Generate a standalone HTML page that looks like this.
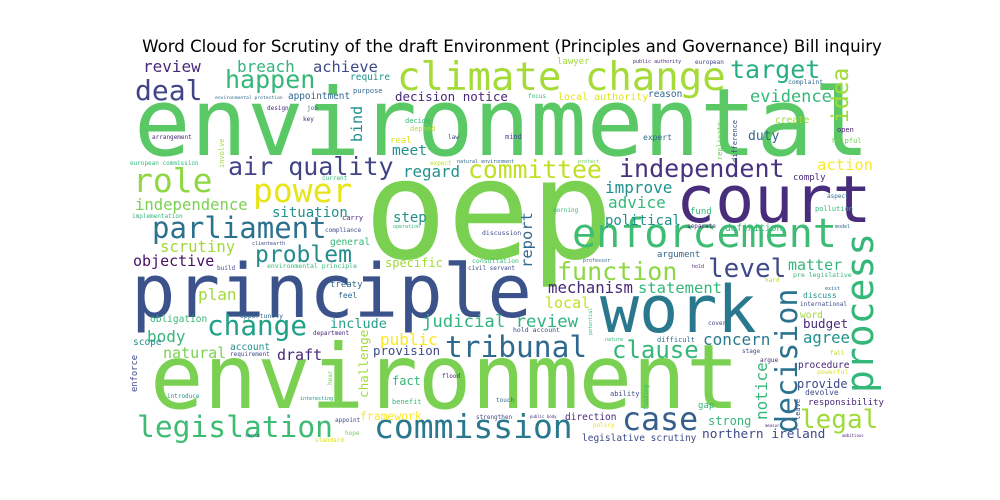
<!DOCTYPE html>
<html><head><meta charset="utf-8"><style>
html,body{margin:0;padding:0;background:#fff;}
svg{display:block}
text.w{font-family:"DejaVu Sans Mono","Liberation Mono",monospace;}
</style></head><body>
<svg id="chart" width="1000" height="500" viewBox="0 0 1000 500" xmlns="http://www.w3.org/2000/svg">
<rect x="0" y="0" width="1000" height="500" fill="#fff"/>
<text x="512" y="52" text-anchor="middle" font-family="DejaVu Sans, Liberation Sans, sans-serif" font-size="16.6" fill="#000">Word Cloud for Scrutiny of the draft Environment (Principles and Governance) Bill inquiry</text>
<g id="cloud"></g>
</svg>
<script>
// word, x, baseline y, font size, colour, vertical flag
const words = [
["environmental",134,155,94,"#5ac864",0],
["oep",364,258,138,"#7ad151",0],
["principle",131,317,74,"#3b528b",0],
["environment",150,408,89,"#7ad151",0],
["court",676,222,65,"#472d7b",0],
["work",600,332,65,"#2a788e",0],
["climate change",397,90,39,"#a5db36",0],
["enforcement",572,247,40,"#3fbc73",0],
["commission",374,438,33,"#2a788e",0],
["tribunal",445,357,29.5,"#31688e",0],
["legislation",137,437,29.6,"#3fbc73",0],
["case",622,430,31.6,"#355f8d",0],
["power",253,202,33,"#e7e419",0],
["role",133,192,33,"#8fd744",0],
["deal",135,100,28,"#414487",0],
["parliament",152,238,29,"#2c718e",0],
["air quality",228,175,25,"#414487",0],
["happen",225,88,25,"#35b779",0],
["target",730,78,25,"#28ae80",0],
["committee",468,178,24.7,"#c2df23",0],
["independent",619,177,25,"#46327e",0],
["change",207,335,27.7,"#1fa187",0],
["problem",255,262,23,"#238a8d",0],
["function",557,280,25,"#8fd744",0],
["level",708,277,26,"#3e4a89",0],
["clause",612,358,24,"#35b779",0],
["legal",800,428,26,"#a0da39",0],
["judicial review",422,327,17.3,"#2fb47c",0],
["review",143,72,16,"#482878",0],
["breach",237,72,16,"#32b47a",0],
["achieve",313,72,15.4,"#3e4a89",0],
["evidence",750,102,17,"#35b779",0],
["duty",748,140,13,"#31688e",0],
["decision notice",395,101,12.5,"#482878",0],
["local authority",558,100,10,"#e2e418",0],
["reason",648,97,9.5,"#31688e",0],
["lawyer",557,64,9,"#a0da39",0],
["create",775,123,9.5,"#a0da39",0],
["complaint",788,84,6.5,"#31688e",0],
["european",695,64,6,"#3e4a89",0],
["public authority",633,63,5,"#482878",0],
["helpful",832,143,7,"#6ece58",0],
["open",837,132,7,"#482878",0],
["expert",643,140,8,"#31688e",0],
["mind",505,139,7,"#3e4a89",0],
["law",448,139,6,"#3e4a89",0],
["decide",405,123,7,"#35b779",0],
["depend",410,131,7,"#b5de2b",0],
["focus",528,98,6,"#35b779",0],
["appointment",288,99,9.4,"#31688e",0],
["require",350,80,9.5,"#21908d",0],
["purpose",353,93,7,"#31688e",0],
["environmental protection",215,99,4.7,"#31688e",0],
["design",267,110,6,"#482878",0],
["job",307,110,6,"#31688e",0],
["key",303,121,6,"#482878",0],
["arrangement",152,139,6,"#482878",0],
["real",390,143,9,"#dde318",0],
["european commission",130,165,6,"#35b779",0],
["independence",135,210,15.6,"#7ad151",0],
["situation",272,217,14,"#21908d",0],
["current",322,180,6,"#35b779",0],
["implementation",132,218,6,"#35b779",0],
["step",393,222,14,"#21908d",0],
["carry",342,220,7,"#482878",0],
["compliance",325,232,6,"#3e4a89",0],
["general",330,245,9.5,"#35b779",0],
["clientearth",252,245,5,"#3e4a89",0],
["scrutiny",160,252,15.6,"#a0da39",0],
["objective",133,266,15,"#471063",0],
["build",217,270,6,"#3e4a89",0],
["environmental principle",267,268,6.5,"#35b779",0],
["specific",385,267,12,"#a0da39",0],
["mechanism",548,293,15.7,"#482878",0],
["statement",638,293,15.5,"#35b779",0],
["local",545,308,15,"#c2df23",0],
["argument",657,257,9,"#31688e",0],
["consultation",472,263,6.5,"#35b779",0],
["civil servant",468,270,6,"#3e4a89",0],
["public",380,345,16,"#fde725",0],
["provision",373,355,12.4,"#3e4a89",0],
["fact",392,385,12,"#35b779",0],
["framework",360,420,11.4,"#fde725",0],
["benefit",392,404,7,"#35b779",0],
["direction",565,420,9.5,"#482878",0],
["strengthen",476,419,6,"#3e4a89",0],
["public body",530,418,4,"#482878",0],
["policy",593,427,6,"#dde318",0],
["legislative scrutiny",582,441,9.5,"#3e4a89",0],
["touch",496,402,6,"#31688e",0],
["flood",442,378,6,"#482878",0],
["ability",610,396,7,"#3e4a89",0],
["difficult",657,342,7,"#31688e",0],
["nature",605,341,5,"#35b779",0],
["hold account",513,332,6.5,"#3e4a89",0],
["professor",583,262,5,"#31688e",0],
["plan",198,300,16,"#a0da39",0],
["treaty",330,287,9,"#31688e",0],
["feel",338,298,8,"#31688e",0],
["include",330,328,13.5,"#2a9d8a",0],
["obligation",150,322,9.5,"#35b779",0],
["opportunity",240,318,6.5,"#31688e",0],
["body",147,342,16,"#35b779",0],
["scope",133,345,9.5,"#21908d",0],
["natural",163,358,15,"#7ad151",0],
["account",230,350,9.5,"#21908d",0],
["draft",277,360,15,"#482878",0],
["requirement",230,356,6,"#3e4a89",0],
["department",313,335,6,"#482878",0],
["introduce",167,398,6,"#21908d",0],
["interesting",300,400,5,"#21908d",0],
["appoint",335,422,6,"#3e4a89",0],
["hope",345,435,6,"#6ece58",0],
["standard",315,442,6,"#dde318",0],
["sense",245,437,5,"#31688e",0],
["regard",403,177,15.8,"#21908d",0],
["meet",392,155,14.5,"#21908d",0],
["improve",605,193,16,"#21908d",0],
["advice",608,208,16,"#35b779",0],
["political",605,225,14,"#21908d",0],
["discussion",482,235,6.5,"#3e4a89",0],
["morning",553,212,6,"#35b779",0],
["expect",430,165,6,"#b5de2b",0],
["natural environment",457,163,5,"#31688e",0],
["protect",578,163,5,"#6ece58",0],
["operation",393,228,5,"#35b779",0],
["action",817,170,15.5,"#fde725",0],
["comply",793,180,9,"#482878",0],
["fund",690,214,9,"#35b779",0],
["pollution",815,211,7,"#35b779",0],
["aspect",827,198,6,"#31688e",0],
["separate",687,228,6,"#482878",0],
["definition",725,231,9.5,"#35b779",0],
["model",835,228,5,"#31688e",0],
["hold",692,268,5,"#482878",0],
["matter",788,270,15,"#35b779",0],
["pre legislative",793,277,6.5,"#35b779",0],
["hard",765,282,6,"#b5de2b",0],
["discuss",803,298,8,"#21908d",0],
["exist",825,290,5,"#31688e",0],
["international",800,306,6,"#3e4a89",0],
["word",800,318,9.5,"#a0da39",0],
["budget",803,328,12.5,"#482878",0],
["concern",703,345,16,"#2a788e",0],
["agree",803,343,15.6,"#21908d",0],
["cover",708,325,6,"#3e4a89",0],
["stage",742,353,6,"#3e4a89",0],
["argue",760,362,6,"#482878",0],
["fall",830,355,6,"#b5de2b",0],
["procedure",798,368,9.5,"#482878",0],
["powerful",817,374,6.5,"#dde318",0],
["provide",797,388,12,"#3e4a89",0],
["devolve",805,395,8,"#3e4a89",0],
["responsibility",808,405,9,"#482878",0],
["gap",698,408,9,"#35b779",0],
["strong",708,425,12,"#35b779",0],
["northern ireland",702,438,12.8,"#3e4a89",0],
["measure",765,427,4,"#482878",0],
["ambitious",842,437,4,"#482878",0],
["process",873,393,38,"#35b779",1],
["decision",797,433,30,"#2c728e",1],
["idea",848,123,23,"#a0da39",1],
["bind",362,142,15,"#21908d",1],
["involve",224,168,7,"#a0da39",1],
["report",532,268,15.5,"#31688e",1],
["challenge",368,398,12.6,"#a0da39",1],
["enforce",137,392,8.8,"#3e4a89",1],
["notice",767,420,16,"#35b779",1],
["funding",648,410,6,"#35b779",1],
["leave",800,420,7,"#3e4a89",1],
["replicate",722,160,7,"#6ece58",1],
["difference",737,162,7,"#3e4a89",1],
["potential",592,335,5,"#35b779",1],
["hear",332,385,6,"#6ece58",1]
];
const g = document.getElementById('cloud');
const NS = 'http://www.w3.org/2000/svg';
for (const w of words) {
  const t = document.createElementNS(NS, 'text');
  t.setAttribute('class', 'w');
  t.setAttribute('font-size', w[3]);
  t.setAttribute('fill', w[4]);
  if (w[5]) {
    t.setAttribute('transform', 'translate(' + w[1] + ',' + w[2] + ') rotate(-90)');
    t.setAttribute('x', 0);
    t.setAttribute('y', 0);
  } else {
    t.setAttribute('x', w[1]);
    t.setAttribute('y', w[2]);
  }
  t.textContent = w[0];
  
  
  g.appendChild(t);
}
</script>
</body></html>
